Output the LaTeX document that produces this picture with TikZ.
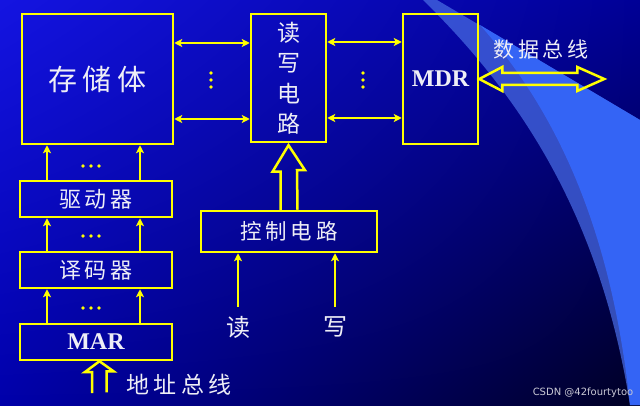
\documentclass[tikz,border=0pt]{standalone}
\usepackage{fontspec}
\setmainfont{Liberation Serif}
\newfontfamily\cjk{Noto Sans CJK SC}
\newfontfamily\cjkwide[LetterSpace=18]{Noto Sans CJK SC}
\newfontfamily\wmfont{DejaVu Sans}
\usetikzlibrary{arrows.meta,shadings}
\definecolor{busyellow}{RGB}{255,255,0}
\definecolor{txtwhite}{RGB}{238,238,246}
\definecolor{bgtl}{RGB}{20,20,225}
\definecolor{bgtr}{RGB}{0,0,150}
\definecolor{bgbl}{RGB}{0,0,170}
\definecolor{bgbr}{RGB}{0,0,35}
\definecolor{swoosh}{RGB}{52,100,245}
\definecolor{swooshdim}{RGB}{70,105,225}
\tikzset{
  box/.style={draw=busyellow, inner sep=0pt},
  lbl/.style={text=txtwhite, inner sep=0pt},
  tip/.style={-{Stealth[length=8pt,width=8pt,inset=2pt]}},
  arr/.style={draw=busyellow, tip},
  biarr/.style={draw=busyellow, {Stealth[length=8pt,width=8pt,inset=2pt]}-{Stealth[length=8pt,width=8pt,inset=2pt]}},
  hollow/.style={draw=busyellow, line join=miter}
}
\begin{document}
\begin{tikzpicture}[x=1pt,y=1pt,line width=2.5pt]
  % background and swoosh
  \shade[upper left=bgtl, upper right=bgtr, lower left=bgbl, lower right=bgbr] (0,0) rectangle (640,405);
  \useasboundingbox (0,0) rectangle (640,405);
  \fill[swooshdim, opacity=0.75] (423,405) .. controls (520,310) and (600,190) .. (630,0)
    -- (640,0) -- (640,285) -- (437,405) -- cycle;
  \fill[swoosh] (480,380) .. controls (560,290) and (612,170) .. (630,0)
    -- (640,0) -- (640,285) -- cycle;

  % memory column
  \node[box, minimum width=151, minimum height=130, lbl, font=\cjkwide\fontsize{29}{34}\selectfont] (store) at (97.5,326) {存储体};
  \node[box, minimum width=152, minimum height=36, lbl, font=\cjkwide\fontsize{22}{26}\selectfont] (drv) at (96,206) {驱动器};
  \node[box, minimum width=152, minimum height=36, lbl, font=\cjkwide\fontsize{22}{26}\selectfont] (dec) at (96,135) {译码器};
  \node[box, minimum width=152, minimum height=36, lbl, font=\bfseries\fontsize{24}{28}\selectfont] (mar) at (96,63) {MAR};

  \foreach \lower/\upper in {drv/store,dec/drv,mar/dec} {
    \draw[arr] ([xshift=-49]\lower.north) -- ([xshift=-49]\lower.north |- \upper.south);
    \draw[arr] ([xshift=44]\lower.north) -- ([xshift=44]\lower.north |- \upper.south);
  }
  \foreach \yy in {239,169,97} {
    \foreach \dx in {-8,0,8} {
      \fill[busyellow] (91+\dx,\yy) circle (1.8);
    }
  }

  % read/write circuit and MDR
  \node[box, minimum width=75, minimum height=128, lbl, align=center, font=\cjk\fontsize{23}{30.5}\selectfont] (rw) at (288.5,327) {读\\写\\电\\路};
  \node[box, minimum width=75, minimum height=130, lbl, font=\bfseries\fontsize{24}{28}\selectfont] (mdr) at (440.5,326) {MDR};

  \foreach \dy in {36,-40} {
    \draw[biarr] ([yshift=\dy]store.east) -- ([yshift=\dy]store.east -| rw.west);
    \draw[biarr] ([yshift=\dy]rw.east) -- ([yshift=\dy]rw.east -| mdr.west);
  }
  \foreach \xx in {211,363} {
    \foreach \yy in {332,325,318} {
      \fill[busyellow] (\xx,\yy) circle (1.8);
    }
  }

  % data bus
  \draw[hollow] (mdr.east) -- ++(23,12) -- ++(0,-6) -- ++(75,0) -- ++(0,6) -- ++(27,-12)
    -- ++(-27,-12) -- ++(0,6) -- ++(-75,0) -- ++(0,-6) -- cycle;
  \node[lbl, font=\cjkwide\fontsize{21}{25}\selectfont] (dbus) at (541,355) {数据总线};

  % control
  \node[box, minimum width=176, minimum height=41, lbl, font=\cjkwide\fontsize{21.5}{25}\selectfont] (ctrl) at (289,173.5) {控制电路};
  \draw[hollow] ([xshift=-8.5]ctrl.north) -- ++(0,38) -- ++(-8,0) -- ([yshift=-2]rw.south)
    -- ++(16.5,-25) -- ++(-8,0) -- ([xshift=8.5]ctrl.north);
  \node[lbl, font=\cjk\fontsize{24}{28}\selectfont] (rd) at (238,78) {读};
  \node[lbl, font=\cjk\fontsize{24}{28}\selectfont] (wr) at (335,78) {写};
  \draw[arr] (rd) ++(0,20) -- (rd |- ctrl.south);
  \draw[arr] (wr) ++(0,20) -- (wr |- ctrl.south);

  % address bus
  \coordinate (adr) at (99.5,12);
  \draw[hollow] (adr) ++(-7.5,0) -- ++(0,21) -- ++(-7,0) -- ([xshift=3.5]mar.south)
    -- ++(14,-10) -- ++(-7,0) -- ++(0,-21);
  \node[lbl, font=\cjkwide\fontsize{23}{27}\selectfont] (abus) at (179,20) {地址总线};

  \node[text={rgb,255:red,200;green,200;blue,212}, font=\wmfont\fontsize{10}{12}\selectfont, inner sep=0pt] (wm) at (583,12) {CSDN @42fourtytoo};
\end{tikzpicture}
\end{document}
